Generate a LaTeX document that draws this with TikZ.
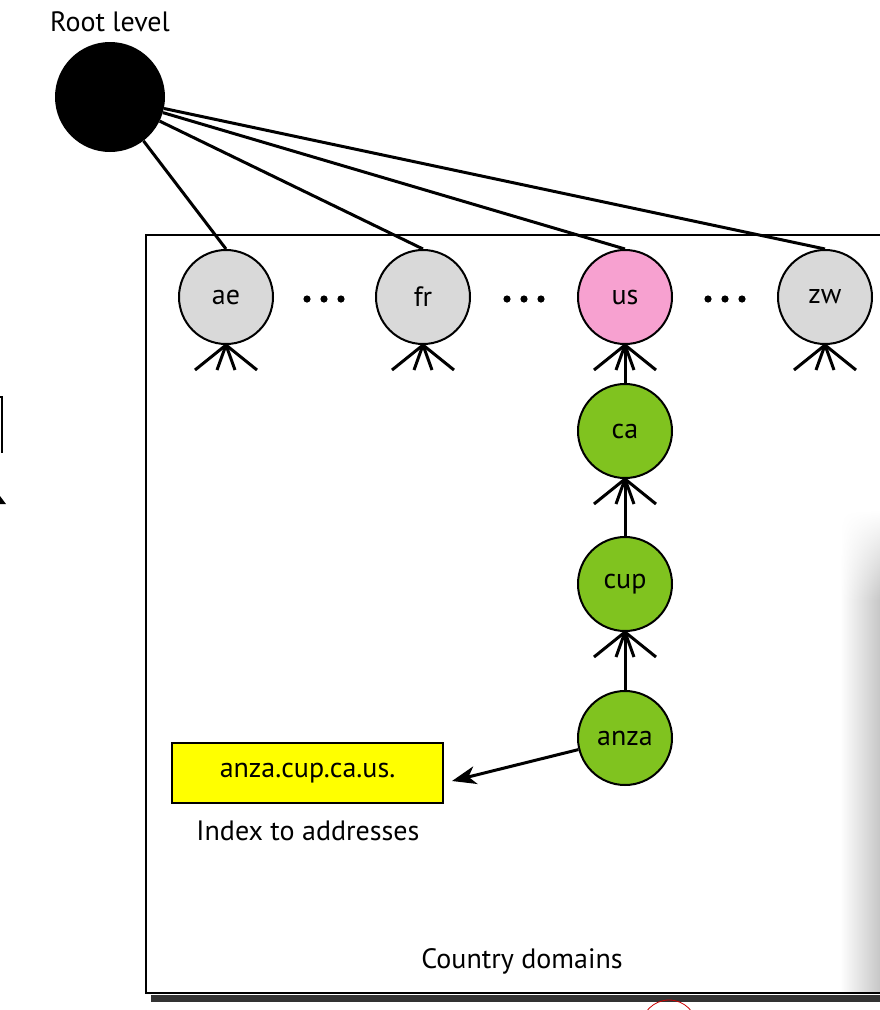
\documentclass[tikz,border=0pt]{standalone}
\usepackage{fontspec}
\setmainfont{PT Sans}
\usetikzlibrary{arrows.meta,fadings}
\tikzfading[name=fadetop, top color=transparent!100, bottom color=transparent!0]
\definecolor{nodegray}{HTML}{D9D9D9}
\definecolor{nodepink}{HTML}{F7A1D0}
\definecolor{nodegreen}{HTML}{80C31F}
\definecolor{boxyellow}{HTML}{FFFF00}
\begin{document}
\begin{tikzpicture}[x=1pt,y=-1pt,
  txt/.style={font=\fontsize{28}{32}\selectfont, inner sep=0pt},
  dn/.style={circle, draw=black, line width=2pt, minimum size=94pt, inner sep=0pt, font=\fontsize{28}{32}\selectfont},
  grayn/.style={dn, fill=nodegray},
  pinkn/.style={dn, fill=nodepink},
  greenn/.style={dn, fill=nodegreen},
  conn/.style={line width=3pt, black},
  fanline/.style={line width=3pt, black, line cap=butt},
  dotmark/.style={black}
]
\useasboundingbox (0,0) rectangle (880,1010);
\clip (0,0) rectangle (880,1010);

% right side shadow
\shade[left color=white, right color=black!22] (840,600) rectangle (880,993);
\shade[left color=white, right color=black!22, path fading=fadetop] (840,510) rectangle (880,600.5);

% country domain frame
\fill[black!80] (151,995) rectangle (890,1002);
\draw[line width=2.5pt] (890,235) -- (146,235) -- (146,993) -- (890,993);

% root
\node[circle, fill=black, minimum size=110pt, inner sep=0pt] (root) at (110,97) {};
\node[txt] (rootlbl) at (110,22) {Root level};

% top level domains
\node[grayn] (ae) at (226,297) {ae};
\node[grayn] (fr) at (423,297) {fr};
\node[pinkn] (us) at (625,297) {us};
\node[grayn] (zw) at (825,297) {zw};

% dots
\foreach \x in {307,324,341, 507,524,541, 708,725,742}
  \fill[dotmark] (\x,299) circle (3.6);

% root links
\draw[conn] (root) -- (ae.north);
\draw[conn] (root) -- (fr.north);
\draw[conn] (root) -- (us.north);
\draw[conn] (root) -- (zw.north);

% second-level chain
\node[greenn] (ca) at (625,431) {ca};
\node[greenn] (cup) at (625,584) {cup};
\node[greenn] (anza) at (625,738) {anza};

\draw[conn] (ca) -- (us);
\draw[conn] (cup) -- (ca);
\draw[conn] (anza) -- (cup);

% fans
\foreach \n in {ae,fr,us,zw,ca,cup}
  \foreach \dx in {-31,-9,9,31}
    \draw[fanline] (\n.south) -- ++(\dx,25);

% index box
\node[draw=black, line width=1.5pt, fill=boxyellow, minimum width=271pt, minimum height=60pt, inner sep=0pt, font=\fontsize{28}{32}\selectfont] (idx) at (307.5,773) {anza.cup.ca.us.};
\coordinate (tip) at (452,781);
\draw[conn, -{Stealth[length=24pt, width=18pt, inset=7pt]}] (anza) -- (tip);
\node[txt] (idxlbl) at (308,831) {Index to addresses};

\node[txt] (cdlbl) at (522,961) {Country domains};

% edge fragments
\draw[line width=1.5pt] (0,397) -- (3,397);
\draw[line width=2pt] (1.5,397) -- (1.5,453);
\fill (0,496) -- (6,504) -- (0,504) -- cycle;
\draw[red!80!black, line width=0.8pt] (669,1028) circle (28);
\draw[red!80!black, line width=0.8pt] (669,1034) circle (22);
\end{tikzpicture}
\end{document}
